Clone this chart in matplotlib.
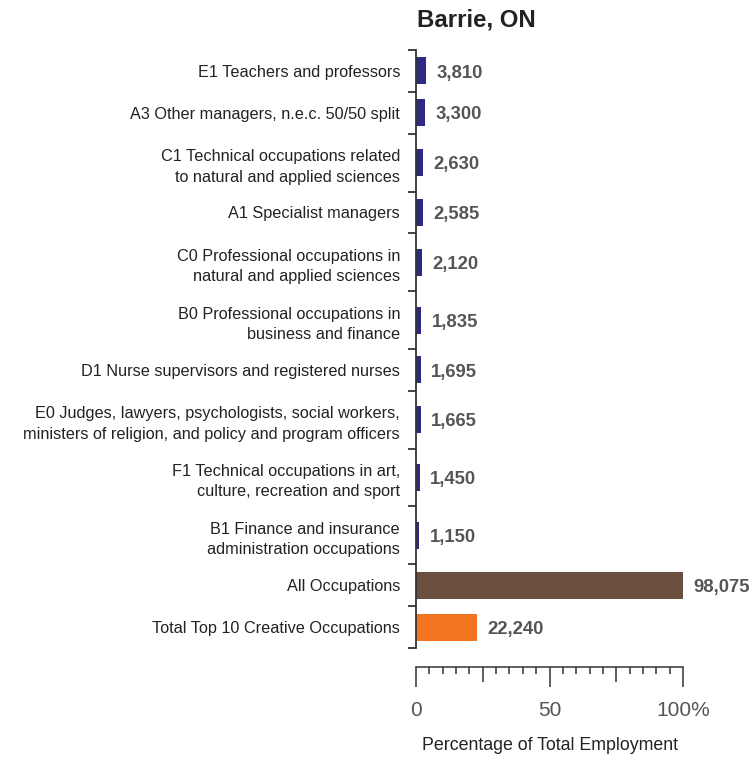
import matplotlib
matplotlib.use("Agg")
import matplotlib.pyplot as plt
import numpy as np

categories = [
    "E1 Teachers and professors",
    "A3 Other managers, n.e.c. 50/50 split",
    "C1 Technical occupations related\nto natural and applied sciences",
    "A1 Specialist managers",
    "C0 Professional occupations in\nnatural and applied sciences",
    "B0 Professional occupations in\nbusiness and finance",
    "D1 Nurse supervisors and registered nurses",
    "E0 Judges, lawyers, psychologists, social workers,\nministers of religion, and policy and program officers",
    "F1 Technical occupations in art,\nculture, recreation and sport",
    "B1 Finance and insurance\nadministration occupations",
    "All Occupations",
    "Total Top 10 Creative Occupations",
]
counts = [3810, 3300, 2630, 2585, 2120, 1835, 1695, 1665, 1450, 1150, 98075, 22240]
total_employment = 98075
bar_colors = ["#2E2A84"] * 10 + ["#6A4E3E", "#F47521"]
title = "Barrie, ON"
x_label = "Percentage of Total Employment"
x_major = [0, 50, 100]
x_major_labels = ["0", "50", "100%"]

REG = ["Liberation Sans", "DejaVu Sans"]

pct = np.array(counts) / total_employment * 100.0

# row layout: single-line rows shorter than two-line rows
row_h = np.array([42 + 16 * (c.count("\n")) for c in categories], dtype=float)
edges = np.concatenate([[0], np.cumsum(row_h)])
centers = (edges[:-1] + edges[1:]) / 2

fig = plt.figure(figsize=(7.54, 7.61), dpi=100)
W, H = 754, 761
ax = fig.add_axes([416 / W, 1 - 648 / H, (683 - 416) / W, (648 - 50) / H])

ax.barh(centers, pct, height=27, color=bar_colors, zorder=2)
ax.set_ylim(edges[-1], 0)
ax.set_xlim(0, 100)

for yc, p, c in zip(centers, pct, counts):
    ax.annotate(f"{c:,}", xy=(p, yc), xytext=(7.5, -1.5), textcoords="offset points",
                va="center", ha="left", fontsize=13.3, fontweight="bold",
                color="#555555", family=REG, annotation_clip=False)

for s in ["top", "right", "bottom"]:
    ax.spines[s].set_visible(False)
ax.spines["left"].set_color("#333333")
ax.spines["left"].set_linewidth(1.3)

ax.set_yticks(centers)
ax.set_yticklabels(categories, family=REG, fontsize=11.7, color="#222222")
for t in ax.get_yticklabels():
    t.set_linespacing(1.45)
ax.tick_params(axis="y", which="major", length=0, pad=11.5)
ax.set_yticks(edges, minor=True)
ax.tick_params(axis="y", which="minor", length=6, width=1.3, color="#333333", direction="out")

ax.set_xticks([])

loc = -19 / 598
sec = ax.secondary_xaxis(loc)
sec.set_xticks(x_major)
sec.set_xticklabels(x_major_labels, family=REG, fontsize=15, color="#555555")
sec.set_xticks([v for v in range(0, 101, 5) if v not in (0, 25, 50, 75, 100)], minor=True)
sec.tick_params(axis="x", which="major", length=14.4, width=1.1, color="#333333", pad=10)
sec.tick_params(axis="x", which="minor", length=5, width=1.1, color="#333333")
sec.spines["bottom"].set_color("#333333")
sec.spines["bottom"].set_linewidth(1.1)

sec2 = ax.secondary_xaxis(loc)
sec2.set_xticks([25, 75])
sec2.set_xticklabels(["", ""])
sec2.tick_params(axis="x", which="major", length=10.5, width=1.1, color="#333333")
sec2.spines["bottom"].set_visible(False)

fig.text(417 / W, 1 - 20 / H, title, ha="left", va="center", fontsize=17.3,
         fontweight="bold", color="#222222", family=REG)
fig.text(549.5 / W, 1 - 746 / H, x_label, ha="center", va="center", fontsize=12.8,
         color="#222222", family=REG)

fig.savefig("out.png", dpi=100)
